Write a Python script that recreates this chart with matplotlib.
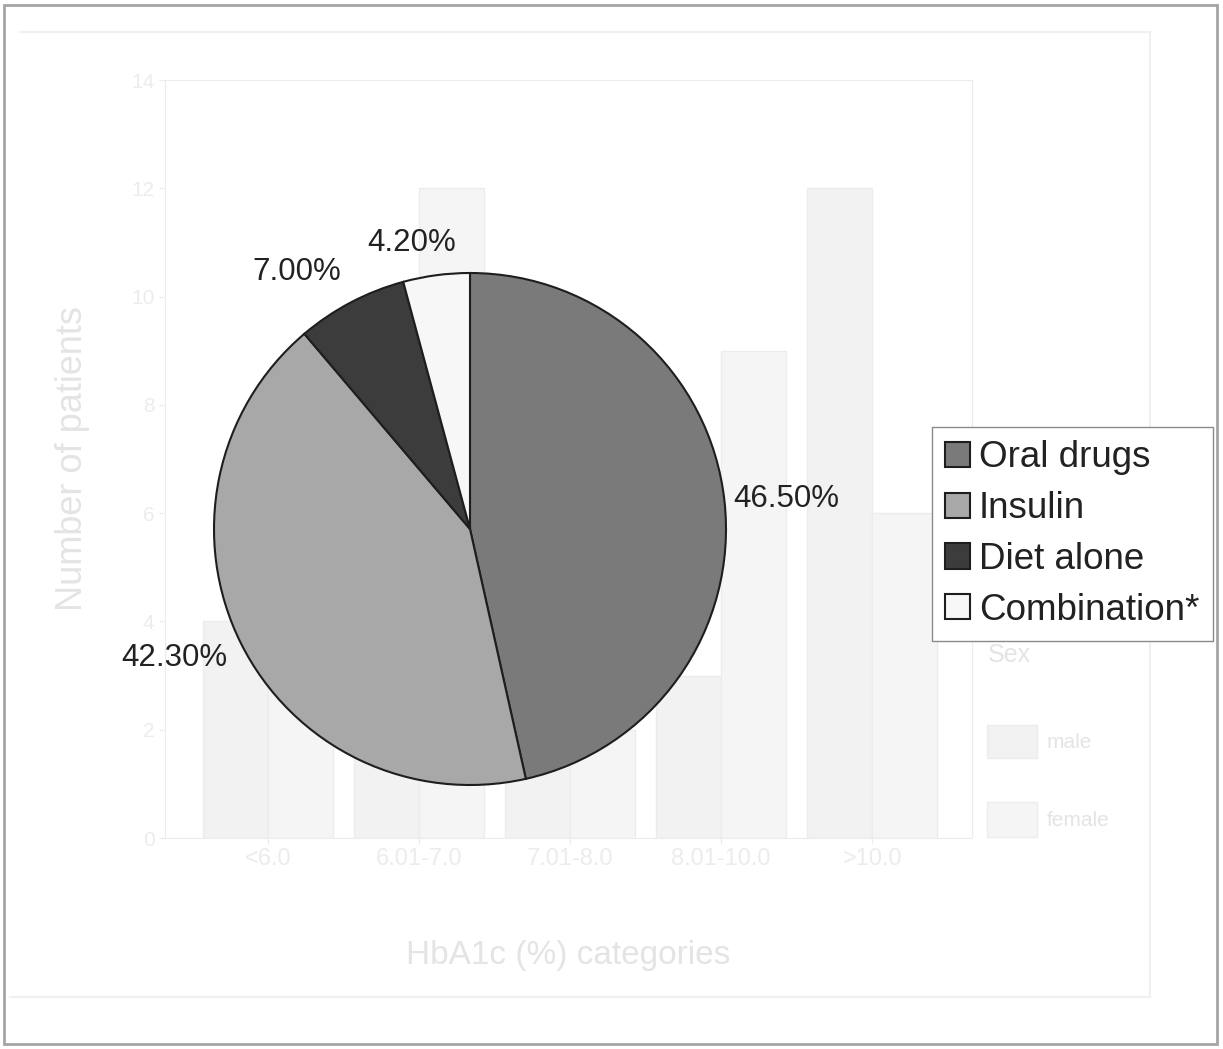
import numpy as np
import matplotlib
matplotlib.use("Agg")
import matplotlib.pyplot as plt
from matplotlib.patches import Rectangle
from matplotlib.lines import Line2D

plt.rcParams['font.family'] = ['Liberation Sans', 'DejaVu Sans']

# treatment split (percent of patients)
treatments = ["Oral drugs", "Insulin", "Diet alone", "Combination*"]
shares = [46.5, 42.3, 7.0, 4.2]
slice_colors = ["#7a7a7a", "#a8a8a8", "#3c3c3c", "#f7f7f7"]

# faint HbA1c chart printed underneath on the same sheet
hba1c_cats = ["<6.0", "6.01-7.0", "7.01-8.0", "8.01-10.0", ">10.0"]
male_counts = [4, 5, 3, 3, 12]
female_counts = [3, 12, 2, 9, 6]
y_ticks = [0, 2, 4, 6, 8, 10, 12, 14]

W, H = 1223, 1049
fig = plt.figure(figsize=(W / 100, H / 100), dpi=100)
fig.patch.set_facecolor("white")


def fx(px):
    return px / W


def fy(py):
    return 1 - py / H


# ---- background chart (very light) ----
ghost = "#ececec"
ghost_txt = "#e4e4e4"
bg = fig.add_axes([fx(165), fy(838), fx(972 - 165), (838 - 80) / H], zorder=0)
x = np.arange(len(hba1c_cats))
bw = 0.43
bg.bar(x - bw / 2, male_counts, bw, color="#f2f2f2", edgecolor=ghost, linewidth=1)
bg.bar(x + bw / 2, female_counts, bw, color="#f5f5f5", edgecolor=ghost, linewidth=1)
bg.set_xlim(-0.68, 4.66)
bg.set_ylim(0, 14)
bg.set_yticks(y_ticks)
bg.set_yticklabels([str(t) for t in y_ticks], fontsize=15, color=ghost_txt)
bg.set_xticks(x)
bg.set_xticklabels(hba1c_cats, fontsize=17, color=ghost_txt)
bg.tick_params(colors=ghost, length=4)
for s in bg.spines.values():
    s.set_color(ghost)
bg.set_ylabel("Number of patients", fontsize=26, color=ghost_txt, labelpad=30)
bg.set_xlabel("HbA1c (%) categories", fontsize=24, color=ghost_txt, labelpad=50)
fig.text(fx(988), fy(655), "Sex", fontsize=18, color=ghost_txt, va="center")
fig.patches.append(Rectangle((fx(987), fy(758)), fx(50), 33 / H, transform=fig.transFigure,
                             facecolor="#f2f2f2", edgecolor=ghost, zorder=0))
fig.patches.append(Rectangle((fx(987), fy(837)), fx(50), 35 / H, transform=fig.transFigure,
                             facecolor="#f5f5f5", edgecolor=ghost, zorder=0))
fig.text(fx(1047), fy(742), "male", fontsize=15, color=ghost_txt, va="center")
fig.text(fx(1047), fy(820), "female", fontsize=15, color=ghost_txt, va="center")

# faint frame of the underlying sheet
for xs, ys in [((20, 1150), (32, 32)), ((1150, 1150), (32, 997)), ((10, 1150), (997, 997))]:
    fig.lines.append(Line2D([fx(v) for v in xs], [fy(v) for v in ys],
                            transform=fig.transFigure, color="#f0f0f0", linewidth=1.5, zorder=0))

# ---- pie ----
cx, cy, r = 470, 529, 256
ax = fig.add_axes([fx(cx - r), fy(cy + r), fx(2 * r), 2 * r / H], zorder=2)
ax.set_facecolor("none")
wedges, _ = ax.pie(shares, colors=slice_colors, startangle=90, counterclock=False,
                   radius=1.0, wedgeprops=dict(edgecolor="#1e1e1e", linewidth=1.5))
ax.set_xlim(-1, 1)
ax.set_ylim(-1, 1)
ax.set_aspect("equal")
ax.axis("off")

# label distance / angular nudge for each slice
label_pos = [(1.24, -0.8), (1.26, -2.8), (1.21, 6.3), (1.14, 4.0)]
for w, v, (dist, nudge) in zip(wedges, shares, label_pos):
    ang = np.deg2rad((w.theta1 + w.theta2) / 2 + nudge)
    ax.text(dist * np.cos(ang), dist * np.sin(ang), f"{v:.2f}%",
            ha="center", va="center", fontsize=22.5, color="#222222", clip_on=False)

leg = fig.legend(wedges, treatments, loc="upper left",
                 bbox_to_anchor=(fx(932), fy(427)), bbox_transform=fig.transFigure,
                 fontsize=26.5, frameon=True, fancybox=False, framealpha=1,
                 edgecolor="#8a8a8a", handlelength=0.68, handleheight=0.68,
                 handletextpad=0.24, labelspacing=0.43, borderpad=0.36,
                 borderaxespad=0)
leg.get_frame().set_linewidth(1.0)
for t in leg.get_texts():
    t.set_color("#222222")

# page frame
fig.patches.append(Rectangle((fx(4), fy(1044)), fx(1213), 1039 / H, transform=fig.transFigure,
                             fill=False, edgecolor="#a5a5a5", linewidth=2, zorder=5))

fig.savefig("out.png", dpi=100)
